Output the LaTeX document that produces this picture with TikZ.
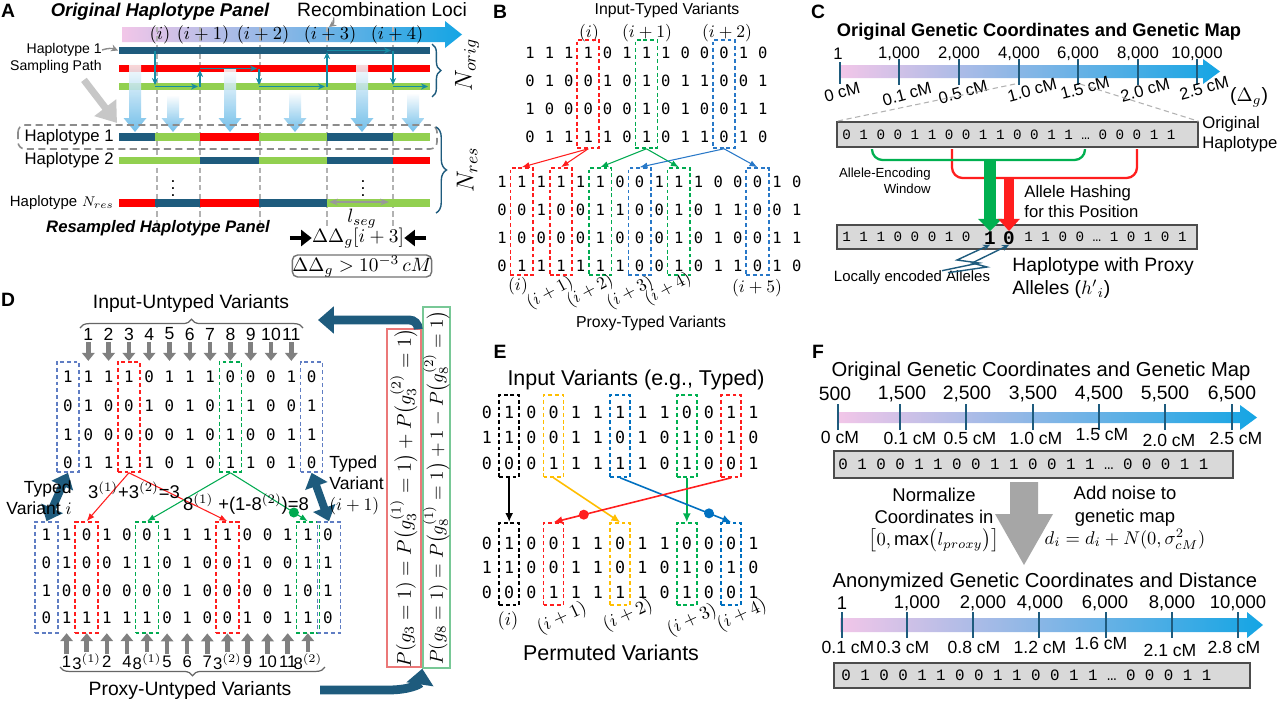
\RequirePackage{fix-cm}
\documentclass[tikz,border=0pt]{standalone}
\usepackage{amsmath}
\usepackage{fontspec}
\setmainfont{Liberation Sans}
\newfontfamily\hapmono{Liberation Mono}
\newfontfamily\bitfont{DejaVu Sans Mono}
\usetikzlibrary{positioning, calc, arrows.meta, decorations.pathreplacing}

\definecolor{hapblue}{RGB}{30,91,125}
\definecolor{hapred}{RGB}{255,0,0}
\definecolor{hapgreen}{RGB}{146,208,80}
\definecolor{gradpink}{RGB}{242,198,232}
\definecolor{gradmid}{RGB}{160,200,238}
\definecolor{gradblue}{RGB}{20,165,228}
\definecolor{arrblue}{RGB}{90,180,230}
\definecolor{boxgray}{RGB}{217,217,217}
\definecolor{arrgray}{RGB}{166,166,166}
\definecolor{bRed}{RGB}{255,30,30}
\definecolor{bGreen}{RGB}{0,170,80}
\definecolor{bBlue}{RGB}{40,120,200}
\definecolor{dBlue}{RGB}{95,125,195}
\definecolor{eYellow}{RGB}{255,190,0}
\definecolor{eBlue}{RGB}{0,112,192}
\definecolor{eGreen}{RGB}{0,176,80}
\definecolor{pRed}{RGB}{235,120,120}
\definecolor{pGreen}{RGB}{120,200,150}
\definecolor{cGreen}{RGB}{0,176,80}

\newcommand\fsz[1]{\fontsize{#1}{\fpeval{1.2*#1}}\selectfont}

% shaded arrow: x0, x1 (head start), y centre, half band, half head, tip
\newcommand\gradarrow[6]{%
  \shade[left color=gradpink, middle color=gradmid, right color=gradblue]
    (#1,{#3-#4}) -- (#2,{#3-#4}) -- (#2,{#3-#5}) -- (#6,#3) -- (#2,{#3+#5})
    -- (#2,{#3+#4}) -- (#1,{#3+#4}) -- cycle;}
% fading down arrow: x, top, tip
\newcommand\bluedown[3]{%
  \shade[top color=white, bottom color=arrblue, opacity=0.85]
    ({#1-6},#2) -- ({#1+6},#2) -- ({#1+6},{#3-14}) -- ({#1+11.5},{#3-14}) -- (#1,#3)
    -- ({#1-11.5},{#3-14}) -- ({#1-6},{#3-14}) -- cycle;}

\tikzset{
  lbl/.style={font=\fsz{11}\bfseries, inner sep=0},
  txt/.style={inner sep=0},
  bit/.style={font=\bitfont\fsz{8.8}, inner sep=0},
  vbox/.style={draw=#1, dash pattern=on 2.2pt off 1.6pt, line width=0.9pt, inner sep=0},
  ln/.style={line width=0.6pt, -{Latex[length=4.5pt,width=3.5pt]}},
  eln/.style={line width=0.9pt, -{Latex[length=5pt,width=4.5pt]}},
  tk/.style={hapblue, line width=0.9pt},
  hbox/.style={draw=black!70, fill=boxgray, line width=0.8pt, inner sep=0},
  grayup/.style={line width=2.6pt, black!50, -{Triangle[length=4.5pt,width=7pt]}},
  samp/.style={hapblue!70!cyan, line width=0.8pt, -{Stealth[length=4pt,width=3.5pt]}},
  edot/.style={circle, fill=#1, inner sep=0, minimum size=0.2cm},
}

\begin{document}
\begin{tikzpicture}[x=0.02cm, y=-0.02cm, >=latex]
\useasboundingbox (0,0) rectangle (1280,703);
\fill[white] (0,0) rectangle (1280,703);

% ---------------- A ----------------
\node[lbl] (labA) at (8,11) {A};
\node[txt, font=\fsz{10.5}\bfseries\itshape] (titA) at (160,12) {Original Haplotype Panel};
\node[txt, font=\fsz{11}] (recA) at (382,10) {Recombination Loci};
\gradarrow{122}{445}{34.5}{7.5}{13.5}{462}
\draw[black!45, line width=0.8pt, -{Stealth[length=4pt,width=4pt]}] ($(recA.south west)+(37,0)$) .. controls ($(recA.south west)+(37,6)$) .. (329,27);
\foreach \x in {157,200,260,327,393}
  \draw[black!30, dash pattern=on 3pt off 2pt, line width=0.6pt] (\x,27) -- (\x,228);
\foreach \x/\t [count=\k] in {160/(i),203/(i+1),263/(i+2),330/(i+3),397/(i+4)}
  \node[txt, font=\fsz{10.5}] (locA\k) at (\x,35) {$\t$};

\fill[hapblue] (119,47) rectangle (430,54);
\fill[hapred] (119,65) rectangle (430,72);
\fill[hapgreen] (119,83) rectangle (430,90);
\coordinate (ob1) at (118,50.5);

\bluedown{135}{62}{132}
\bluedown{173}{95}{132}
\bluedown{230}{68}{132}
\bluedown{295}{92}{132}
\bluedown{362}{62}{132}
\bluedown{413}{93}{132}

\draw[samp] (155,51) -- (155,85);
\draw[samp] (155,86.5) -- (198,86.5);
\draw[samp] (200,86.5) -- (200,70);
\draw[samp] (200,68.5) -- (257,68.5);
\draw[samp] (259,68.5) -- (259,85);
\draw[samp] (259,86.5) -- (325,86.5);
\draw[samp] (327,86.5) -- (327,52);
\draw[samp] (327,50.5) -- (391,50.5);
\draw[samp] (393,50.5) -- (393,85);
\draw[samp] (393,86.5) -- (428,86.5);

\node[txt, anchor=east, font=\fsz{8}] (hap1s) at (102,50) {Haplotype 1};
\node[txt, anchor=east, font=\fsz{8}] (sampP) at (102,67) {Sampling Path};
\draw[black!45, line width=0.8pt, -{Stealth[length=4pt,width=4pt]}] (hap1s.east) to[bend left=20] (ob1);
\draw[black!22, line width=4pt, -{Triangle[length=11pt,width=15pt]}] ($(sampP.south)+(28,6)$) -- (117,123);

\draw[black!45, dash pattern=on 4pt off 2.5pt, line width=0.9pt, rounded corners=4pt] (18,125) rectangle (437,149);
\foreach \a/\b/\c in {119/155/hapblue,155/200/hapgreen,200/259/hapred,259/327/hapgreen,327/393/hapblue,393/430/hapgreen}
  \fill[\c] (\a,133) rectangle (\b,141);
\foreach \a/\b/\c in {119/200/hapgreen,200/259/hapblue,259/327/hapgreen,327/393/hapblue,393/430/hapred}
  \fill[\c] (\a,157) rectangle (\b,164);
\foreach \a/\b/\c in {119/155/hapred,155/200/hapblue,200/259/hapred,259/327/hapblue,327/430/hapgreen}
  \fill[\c] (\a,199) rectangle (\b,207);

\node[txt, anchor=east, font=\fsz{9.5}] (rh1) at (114,137) {Haplotype 1};
\node[txt, anchor=east, font=\fsz{9.5}] (rh2) at (114,160.5) {Haplotype 2};
\node[txt, anchor=east] (rhN) at (114,203) {{\fsz{8.5}Haplotype} {\fsz{8}$N_{res}$}};
\node[txt, font=\fsz{10}] (vdA1) at (173,183) {$\vdots$};
\node[txt, font=\fsz{10}] (vdA2) at (363,183) {$\vdots$};

\coordinate (segL) at (329,202);
\coordinate (segR) at (389,202);
\draw[black!40, line width=1.2pt, {Stealth[length=5pt]}-{Stealth[length=5pt]}] (segL) -- (segR);
\node[txt, font=\fsz{11}] (lseg) at (362,219) {$l_{seg}$};
\node[txt, font=\fsz{9.5}\bfseries\itshape] (titRes) at (158,228) {Resampled Haplotype Panel};
\node[txt, font=\fsz{11}] (ddg) at (358,238) {$\Delta\Delta_g[i+3]$};
\draw[line width=2.5pt, -{Triangle[length=6pt,width=9pt]}] ($(ddg.west)+(-22,0)$) -- (ddg.west);
\draw[line width=2.5pt, -{Triangle[length=6pt,width=9pt]}] ($(ddg.east)+(22,0)$) -- (ddg.east);
\node[draw=black!55, line width=0.8pt, rounded corners=3pt, minimum width=2.4cm, minimum height=0.44cm, inner sep=0, font=\fsz{11}] (thrA) at (362,266) {$\Delta\Delta_g > 10^{-3}\,cM$};

\draw[hapblue, line width=0.8pt, decorate, decoration={brace, amplitude=5pt}] (432,44) -- (432,97);
\node[txt, rotate=90, font=\fsz{14}] (norig) at (467,65) {$N_{orig}$};
\draw[hapblue, line width=0.8pt, decorate, decoration={brace, amplitude=6pt}] (436,127) -- (436,213);
\node[txt, rotate=90, font=\fsz{14}] (nres) at (467,170) {$N_{res}$};

% ---------------- B ----------------
\node[lbl] (labB) at (500,12) {B};
\node[txt, font=\fsz{9}] (titB) at (667,10) {Input-Typed Variants};
\foreach \x/\t [count=\k] in {589/(i),647/(i+1),727/(i+2)}
  \node[txt, font=\fsz{10}] (locB\k) at (\x,33) {$\t$};
\foreach \row [count=\r] in {{1,1,1,1,0,1,1,1,0,0,0,1,0},{0,1,0,0,1,0,1,0,1,1,0,0,1},{1,0,0,0,0,0,1,0,1,0,0,1,1},{0,1,1,1,1,0,1,0,1,1,0,1,0}}
  \foreach \v [count=\c] in \row
    \node[bit] (bt-\r-\c) at ({530+(\c-1)*19.4},{53+(\r-1)*28}) {\v};
\foreach \row [count=\r] in {{1,1,1,1,1,1,0,0,1,1,1,0,0,0,1,0},{0,0,1,0,0,1,1,0,0,1,0,1,1,0,0,1},{1,0,0,0,0,1,0,0,0,1,0,1,0,0,1,1},{0,1,1,1,1,1,1,0,0,1,0,1,1,0,1,0}}
  \foreach \v [count=\c] in \row
    \node[bit] (bb-\r-\c) at ({502+(\c-1)*19.65},{182+(\r-1)*28}) {\v};
\node[vbox=bRed, minimum width=0.44cm, minimum height=2.16cm] (bTi) at (588.2,94) {};
\node[vbox=bGreen, minimum width=0.44cm, minimum height=2.16cm] (bTj) at (646.4,94) {};
\node[vbox=bBlue, minimum width=0.44cm, minimum height=2.16cm] (bTk) at (724,94) {};
\foreach \c/\col [count=\k] in {2/bRed,4/bRed,6/bGreen,8/bBlue,10/bGreen,14/bBlue}
  \node[vbox=\col, minimum width=0.45cm, minimum height=2.14cm] (bB\k) at ({502+(\c-1)*19.65},221.5) {};
\draw[ln, bRed] (bTi.south) -- (bB1.north);
\draw[ln, bRed] (bTi.south) -- (bB2.north);
\draw[ln, bGreen] (bTj.south) -- (bB3.north);
\draw[ln, bGreen] (bTj.south) -- (bB5.north);
\draw[ln, bBlue] (bTk.south) -- (bB4.north);
\draw[ln, bBlue] (bTk.south) -- (bB6.north);
\node[txt, font=\fsz{10}] (pB0) at (518,286) {$(i)$};
\foreach \x/\y/\t [count=\k] in {550/293/(i+1),590/291/(i+2),630/293/(i+3),668/289/(i+4)}
  \node[txt, font=\fsz{10}, rotate=28] (pBr\k) at (\x,\y) {$\t$};
\node[txt, font=\fsz{10}] (pB5) at (757,288) {$(i+5)$};
\node[txt, font=\fsz{9}] (titB2) at (651,323) {Proxy-Typed Variants};

% ---------------- C ----------------
\node[lbl] (labC) at (818,12) {C};
\node[txt, font=\fsz{10.4}\bfseries] (titC) at (1039,32) {Original Genetic Coordinates and Genetic Map};
\gradarrow{840}{1203}{71.5}{6.5}{12.5}{1220}
\draw[tk] (840,62) -- (840,84);
\foreach \x in {899,959,1019,1078,1138,1197}
  \draw[tk] (\x,59) -- (\x,85);
\foreach \x/\t [count=\k] in {838/1,899/{1,000},959/{2,000},1019/{4,000},1078/{6,000},1138/{8,000},1197/{10,000}}
  \node[txt, font=\fsz{9.5}] (nC\k) at (\x,54) {\t};
\foreach \x/\y/\t [count=\k] in {842/92/0 cM,907/94/0.1 cM,963/92/0.5 cM,1032/90/1.0 cM,1085/88/1.5 cM,1145/90/2.0 cM,1204/88/2.5 cM}
  \node[txt, rotate=15, font=\fsz{9.5}] (cmC\k) at (\x,\y) {\t};
\node[txt, font=\fsz{11}] (dgC) at (1249,97) {($\Delta_g$)};
\node[hbox, minimum width=7.22cm, minimum height=0.5cm] (cOrig) at (1017.5,134.5) {};
\draw[black!30, dash pattern=on 3pt off 2pt, line width=0.6pt] (1015,84) -- (cOrig.north west);
\draw[black!30, dash pattern=on 3pt off 2pt, line width=0.6pt] (1080,84) -- (cOrig.north east);
\node[txt, anchor=west, font=\hapmono\fsz{8.1}] (cOrigTxt) at (842,134.5) {0 1 0 0 1 1 0 0 1 1 0 0 1 1 … 0 0 0 1 1};
\node[txt, anchor=west, align=left, font=\fsz{9.5}] (cOH) at (1202,134) {Original\\Haplotype};

\node[hbox, minimum width=7.2cm, minimum height=0.48cm] (cHp) at (1017,237) {};
\node[txt, anchor=west, font=\hapmono\fsz{8.1}] (cHpA) at (842,237) {1 1 1 0 0 0 1 0};
\node[txt, font=\hapmono\bfseries\fsz{11}] (cBit1) at (990,238) {1};
\node[txt, font=\hapmono\bfseries\fsz{11}] (cBit0) at (1009,238) {0};
\node[txt, anchor=west, font=\hapmono\fsz{8.1}] (cHpB) at (1024,237) {1 1 0 0 … 1 0 1 0 1};

\draw[bRed, line width=1.3pt, rounded corners=6pt] (952,149) -- (952,178) -- (1137,178) -- (1137,149);
\draw[cGreen, line width=1.3pt, rounded corners=6pt] (872,149) -- (872,160) -- (1085,160) -- (1085,149);
\draw[cGreen, line width=6.5pt, -{Triangle[length=7pt,width=13pt]}] (990,160) -- (cBit1.north);
\draw[bRed, line width=5.5pt, -{Triangle[length=7pt,width=12pt]}] (1009,178) -- (cBit0.north);
\node[txt, anchor=east, align=right, font=\fsz{7.5}] (cAEW) at (931,181) {Allele-Encoding\\Window};
\node[txt, anchor=west, align=left, font=\fsz{9.5}] (cAH) at (1024,202) {Allele Hashing\\for this Position};

\node[txt, font=\fsz{8.5}] (cLoc) at (912,278) {Locally encoded Alleles};
\draw[hapblue, line width=0.8pt, -{Stealth[length=4pt,width=3.5pt]}] ($(cLoc.north)+(30,0)$) -- (979,263) -- (957,260) -- (cBit1.south);
\draw[hapblue, line width=0.8pt, -{Stealth[length=4pt,width=3.5pt]}] ($(cLoc.north)+(36,2)$) -- (987,267) -- (972,263) -- (cBit0.south);
\node[txt, anchor=west, align=left, font=\fsz{11}] (cHW) at (1012,278) {Haplotype with Proxy\\Alleles ($h'{}_i$)};

% ---------------- D ----------------
\node[lbl] (labD) at (8,300) {D};
\node[txt, font=\fsz{11}] (titD) at (191,303) {Input-Untyped Variants};
\draw[black!60, line width=0.7pt, decorate, decoration={brace, amplitude=5pt}] (80,328) -- (303,328);
\foreach \row [count=\r] in {{1,1,1,1,0,1,1,1,0,0,0,1,0},{0,1,0,0,1,0,1,0,1,1,0,0,1},{1,0,0,0,0,0,1,0,1,0,0,1,1},{0,1,1,1,1,0,1,0,1,1,0,1,0}}
  \foreach \v [count=\c] in \row
    \node[bit, font=\bitfont\fsz{9}] (dt-\r-\c) at ({68+(\c-1)*20.3},{377+(\r-1)*28.7}) {\v};
\foreach \row [count=\r] in {{1,1,0,1,0,0,1,1,1,1,0,0,1,1,0},{0,1,0,0,1,1,0,1,0,0,1,0,0,1,1},{1,0,0,0,0,0,0,1,0,0,0,0,1,0,1},{0,1,1,1,1,1,0,1,0,0,1,0,1,1,0}}
  \foreach \v [count=\c] in \row
    \node[bit, font=\bitfont\fsz{9}] (db-\r-\c) at ({46.5+(\c-1)*20.1},{535+(\r-1)*27.7}) {\v};
\foreach \k [evaluate=\k as \j using int(\k+1)] in {1,...,11} {
  \node[txt, font=\fsz{10}] (un\k) at ({68+\k*20.3},334) {\k};
  \draw[grayup, shorten >=0.2cm, shorten <=1pt] (un\k.south) -- (dt-1-\j.north);
}
\foreach \t [count=\k] in {1,3$^{(1)}$,2,4,8$^{(1)}$,5,6,7,3$^{(2)}$,9,10,11,8$^{(2)}$} {
  \pgfmathtruncatemacro\j{\k+1}
  \node[txt, font=\fsz{9.5}] (pu\k) at ({46.5+\k*20.1},662) {\t};
  \draw[grayup, shorten >=0.18cm, shorten <=1pt] (pu\k.north) -- (db-4-\j.south);
}
\node[vbox=dBlue, minimum width=0.44cm, minimum height=2.2cm] (dTb1) at (68,417) {};
\node[vbox=bRed, minimum width=0.44cm, minimum height=2.2cm] (dTr) at (128.9,417) {};
\node[vbox=bGreen, minimum width=0.44cm, minimum height=2.2cm] (dTg) at (230.4,417) {};
\node[vbox=dBlue, minimum width=0.44cm, minimum height=2.2cm] (dTb2) at (311.6,417) {};
\node[vbox=dBlue, minimum width=0.46cm, minimum height=2.22cm] (dBb1) at (46.5,577.5) {};
\node[vbox=bRed, minimum width=0.46cm, minimum height=2.22cm] (dBr1) at (86.7,577.5) {};
\node[vbox=bGreen, minimum width=0.46cm, minimum height=2.22cm] (dBg1) at (147,577.5) {};
\node[vbox=bRed, minimum width=0.46cm, minimum height=2.22cm] (dBr2) at (227.4,577.5) {};
\node[vbox=bGreen, minimum width=0.46cm, minimum height=2.22cm] (dBg2) at (307.8,577.5) {};
\node[vbox=dBlue, minimum width=0.46cm, minimum height=2.22cm] (dBb2) at (329,577.5) {};
\draw[ln, bRed] (dTr.south) -- (dBr1.north);
\draw[ln, bRed] (dTr.south) -- (dBr2.north);
\draw[ln, bGreen] (dTg.south) -- (dBg1.north);
\draw[ln, bGreen] (dTg.south) -- (dBg2.north) node[edot=bGreen, pos=0.82] (dGdot) {};
\draw[hapblue, line width=4.5pt, {Triangle[length=8pt,width=13pt]}-{Triangle[length=8pt,width=13pt]}] (dTb1.south) -- (dBb1.north);
\draw[hapblue, line width=4.5pt, {Triangle[length=8pt,width=13pt]}-{Triangle[length=8pt,width=13pt]}] (dTb2.south) -- (dBb2.north);
\node[txt, anchor=east, align=right, font=\fsz{10}] (dTyI) at (72,498) {Typed\\Variant $i$};
\node[txt, anchor=west, align=left, font=\fsz{10}] (dTyJ) at (329,485) {Typed\\Variant\\$(i+1)$};
\node[txt, font=\fsz{10.5}] (dF3) at (134,490) {3$^{(1)}$+3$^{(2)}$=3};
\node[txt, font=\fsz{10.5}] (dF8) at (246,504) {8$^{(1)}$ +(1-8$^{(2)}$)=8};
\draw[black!60, line width=0.7pt, decorate, decoration={brace, amplitude=5pt}] (325,667) -- (60,667);
\node[txt, font=\fsz{11}] (pux) at (190,690) {Proxy-Untyped Variants};

\node[draw=pRed, line width=0.8pt, rotate=90, minimum width=6.6cm, minimum height=0.68cm, inner sep=0, font=\fsz{11.3}] (pg3) at (404,498) {$P(g_3=1)=P\bigl(g_3^{(1)}=1\bigr)+P\bigl(g_3^{(2)}=1\bigr)$};
\node[draw=pGreen, line width=0.8pt, rotate=90, minimum width=7.22cm, minimum height=0.54cm, inner sep=0, font=\fsz{10.7}] (pg8) at (436.5,487.5) {$P(g_8=1)=P\bigl(g_8^{(1)}=1\bigr)+1-P\bigl(g_8^{(2)}=1\bigr)$};
\coordinate (upEnd) at (318,320);
\draw[hapblue, line width=5pt, rounded corners=5pt, -{Triangle[length=9pt,width=15pt]}] ([xshift=-0.07cm]pg3.south east) |- (upEnd);
\coordinate (cvStart) at (320,690);
\draw[hapblue, line width=5pt, -{Triangle[length=9pt,width=15pt]}] (cvStart) -- (388,690) .. controls (410,690) and (420,684) .. (pg8.north west);

% ---------------- E ----------------
\node[lbl] (labE) at (500,352) {E};
\node[txt, font=\fsz{12.2}] (titE) at (636,380) {Input Variants (e.g., Typed)};
\foreach \row [count=\r] in {{0,1,0,0,1,1,1,1,1,0,0,1,1},{1,1,0,0,1,1,0,1,0,1,0,1,0},{0,0,0,1,1,1,1,1,0,1,0,0,1}}
  \foreach \v [count=\c] in \row
    \node[bit, font=\bitfont\fsz{9.5}] (et-\r-\c) at ({487+(\c-1)*22.2},{412+(\r-1)*25.5}) {\v};
\foreach \row [count=\r] in {{0,1,0,0,1,1,0,1,1,0,0,0,1},{1,1,0,0,1,1,0,1,0,1,0,1,0},{0,0,0,1,1,1,1,1,0,1,0,0,1}}
  \foreach \v [count=\c] in \row
    \node[bit, font=\bitfont\fsz{9.5}] (eb-\r-\c) at ({487+(\c-1)*22.2},{543+(\r-1)*24.5}) {\v};
\tikzset{ebox/.style={minimum width=0.4cm, minimum height=1.64cm}}
\node[vbox=black, line width=1.3pt, ebox] (eTk) at (509.2,436) {};
\node[vbox=eYellow, ebox] (eTy) at (553.6,436) {};
\node[vbox=eBlue, ebox] (eTb) at (620.2,436) {};
\node[vbox=eGreen, ebox] (eTg) at (686.8,436) {};
\node[vbox=bRed, ebox] (eTr) at (731.2,436) {};
\node[vbox=black, line width=1.3pt, ebox] (eBk) at (509.2,564) {};
\node[vbox=bRed, ebox] (eBr) at (553.6,564) {};
\node[vbox=eYellow, ebox] (eBy) at (620.2,564) {};
\node[vbox=eGreen, ebox] (eBg) at (686.8,564) {};
\node[vbox=eBlue, ebox] (eBb) at (731.2,564) {};
\draw[eln, black] (eTk.south) -- (eBk.north);
\draw[eln, eYellow] (eTy.south) -- (eBy.north);
\draw[eln, eGreen] (eTg.south) -- (eBg.north);
\draw[eln, eBlue] (eTb.south) -- (eBb.north) node[edot=eBlue, pos=0.8] (eBdot) {};
\draw[eln, bRed] (eTr.south) -- (eBr.north) node[edot=bRed, pos=0.83] (eRdot) {};
\node[txt, font=\fsz{10.5}] (pE0) at (508,621) {$(i)$};
\foreach \x/\y/\t [count=\k] in {562/618/(i+1),628/615/(i+2),692/620/(i+3),742/615/(i+4)}
  \node[txt, font=\fsz{10.5}, rotate=25] (pEr\k) at (\x,\y) {$\t$};
\node[txt, font=\fsz{12.2}] (titE2) at (611,653) {Permuted Variants};

% ---------------- F ----------------
\node[lbl] (labF) at (818,352) {F};
\node[txt, font=\fsz{11.5}] (titF1) at (1041,371) {Original Genetic Coordinates and Genetic Map};
\gradarrow{838}{1240}{417.5}{5.5}{12.5}{1257}
\foreach \x in {838,900,966,1033,1099,1165,1232}
  \draw[tk] (\x,404) -- (\x,430);
\foreach \x/\t [count=\k] in {835/500,902/{1,500},967/{2,500},1033/{3,500},1099/{4,500},1165/{5,500},1232/{6,500}}
  \node[txt, font=\fsz{11}] (nF\k) at (\x,394) {\t};
\foreach \x/\y/\t [count=\k] in {840/437/0 cM,910/438/0.1 cM,970/438/0.5 cM,1036/438/1.0 cM,1102/435/1.5 cM,1169/440/2.0 cM,1236/438/2.5 cM}
  \node[txt, font=\fsz{10}] (cmF\k) at (\x,\y) {\t};
\node[hbox, minimum width=7.98cm, minimum height=0.54cm] (fOrig) at (1033.5,464.5) {};
\node[txt, anchor=west, font=\hapmono\fsz{9}] (fOrigTxt) at (838,464.5) {0 1 0 0 1 1 0 0 1 1 0 0 1 1 … 0 0 0 1 1};
\fill[arrgray] (1010,482) -- (1038,482) -- (1038,514) -- (1053,514) -- (1024,565) -- (995,514) -- (1010,514) -- cycle;
\node[txt, align=center, font=\fsz{10.5}] (fNorm) at (934,520) {Normalize\\Coordinates in\\$\bigl[0,\max\bigl(l_{proxy}\bigr)\bigr]$};
\node[txt, align=center, font=\fsz{10.5}] (fNoise) at (1125,518) {Add noise to\\genetic map\\$d_i=d_i+N(0,\sigma^2_{cM})$};
\node[txt, font=\fsz{11.5}] (titF2) at (1045,582) {Anonymized Genetic Coordinates and Distance};
\gradarrow{840}{1247}{625}{7}{13}{1263}
\foreach \x in {842,907,973,1039,1106,1172,1238}
  \draw[tk] (\x,612) -- (\x,638);
\foreach \x/\t [count=\k] in {842/1,917/{1,000},983/{2,000},1040/{4,000},1105/{6,000},1172/{8,000},1238/{10,000}}
  \node[txt, font=\fsz{10.5}] (nF2\k) at (\x,603) {\t};
\foreach \x/\y/\t [count=\k] in {848/647/0.1 cM,903/647/0.3 cM,974/647/0.8 cM,1040/647/1.2 cM,1101/643/1.6 cM,1170/650/2.1 cM,1234/647/2.8 cM}
  \node[txt, font=\fsz{10}] (cmF2\k) at (\x,\y) {\t};
\node[hbox, minimum width=8.32cm, minimum height=0.5cm] (fAnon) at (1042,675.5) {};
\node[txt, anchor=west, font=\hapmono\fsz{9}] (fAnonTxt) at (841,675.5) {0 1 0 0 1 1 0 0 1 1 0 0 1 1 … 0 0 0 1 1};

\end{tikzpicture}
\end{document}
